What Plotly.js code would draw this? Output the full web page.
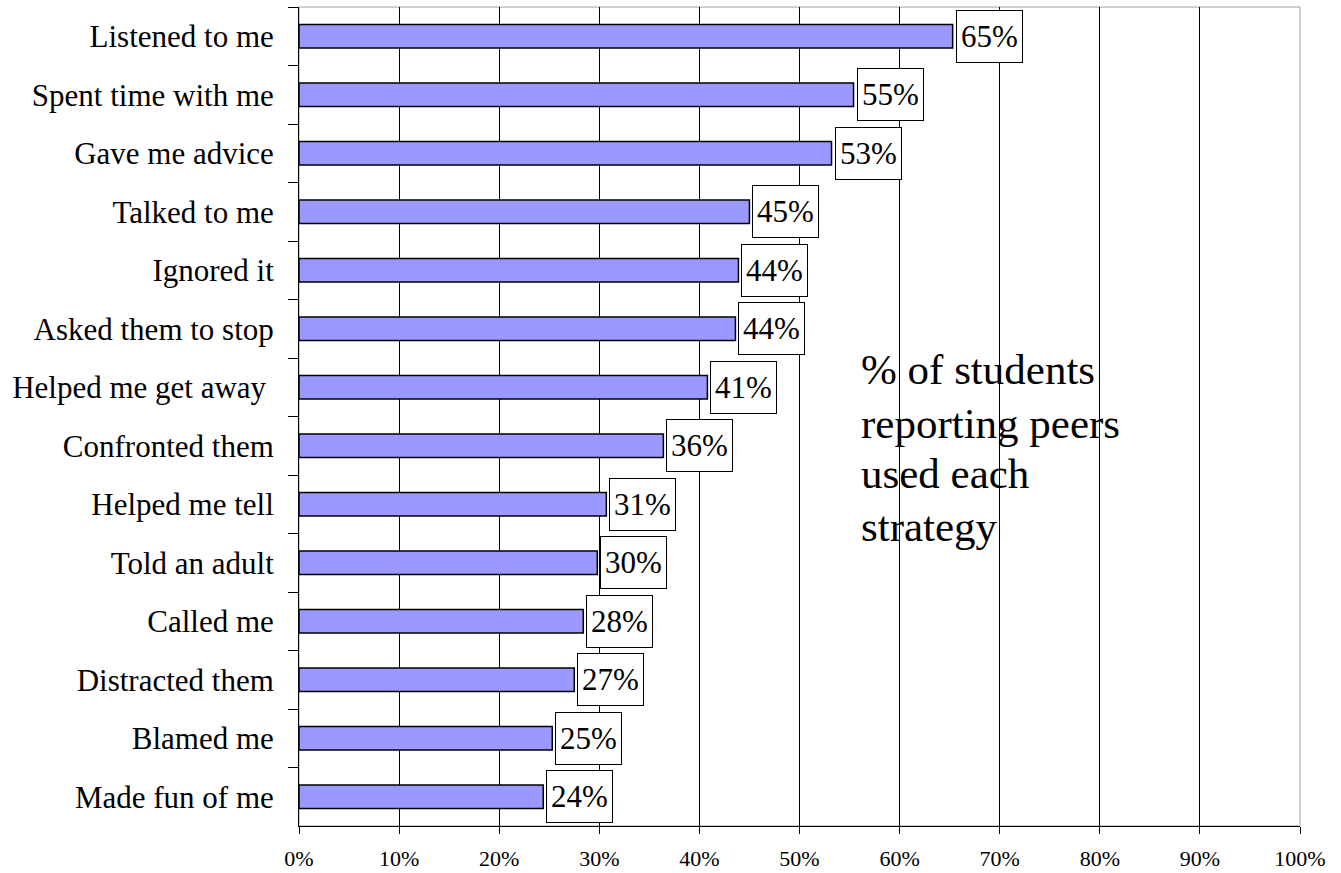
<!DOCTYPE html>
<html>
<head>
<meta charset="utf-8">
<script src="https://cdn.plot.ly/plotly-3.0.1.min.js"></script>
<style>html,body{margin:0;padding:0;background:#fff;}#chart{width:1341px;height:873px;}</style>
</head>
<body>
<div id="chart"></div>
<script>
const categories = ["Listened to me","Spent time with me","Gave me advice","Talked to me","Ignored it","Asked them to stop","Helped me get away\u00a0","Confronted them","Helped me tell","Told an adult","Called me","Distracted them","Blamed me","Made fun of me"];
const values = [0.653, 0.554, 0.532, 0.450, 0.439, 0.436, 0.408, 0.364, 0.307, 0.298, 0.284, 0.275, 0.253, 0.244];
const labels = ["65%","55%","53%","45%","44%","44%","41%","36%","31%","30%","28%","27%","25%","24%"];
const xTicks = [0,0.1,0.2,0.3,0.4,0.5,0.6,0.7,0.8,0.9,1.0];
const xTickText = ["0%","10%","20%","30%","40%","50%","60%","70%","80%","90%","100%"];
const noteLines = ["% of students","reporting peers","used each","strategy"];

const FONT = "'Liberation Serif','Times New Roman',Times,serif";

const trace = {
  type: 'bar', orientation: 'h',
  x: values, y: categories,
  marker: {color: '#9999FF', line: {color: '#000000', width: 1.5}},
  hoverinfo: 'none'
};

const annotations = values.map((v, i) => ({
  x: v, y: categories[i], xref: 'x', yref: 'y',
  text: labels[i], showarrow: false,
  xanchor: 'left', yanchor: 'middle', xshift: 3,
  width: 63, height: 49, align: 'center', valign: 'middle',
  font: {family: FONT, size: 31, color: '#000'},
  bgcolor: '#ffffff', bordercolor: '#000000', borderwidth: 1, borderpad: 1
}));

const noteY = [0.557, 0.492, 0.431, 0.366];
noteLines.forEach((t, i) => {
  annotations.push({
    x: 0.559, y: noteY[i], xref: 'x', yref: 'paper',
    text: t, showarrow: false, xanchor: 'left', yanchor: 'middle',
    font: {family: FONT, size: 43, color: '#000'}
  });
});

const layout = {
  width: 1341, height: 873,
  margin: {l: 299, r: 41, t: 7, b: 47, pad: 0},
  paper_bgcolor: '#ffffff', plot_bgcolor: '#ffffff',
  showlegend: false,
  bargap: 0.6,
  xaxis: {
    range: [0, 1], tickvals: xTicks, ticktext: xTickText,
    showgrid: true, gridcolor: '#000000', gridwidth: 1,
    zeroline: false, showline: true, linecolor: '#000000', linewidth: 1,
    ticks: 'outside', ticklen: 7, tickcolor: '#000000',
    ticklabelstandoff: 6,
    tickfont: {family: FONT, size: 22, color: '#000'}, fixedrange: true
  },
  yaxis: {
    type: 'category', autorange: 'reversed',
    showgrid: false, zeroline: false, showline: true, linecolor: '#000000', linewidth: 1,
    ticks: 'outside', tickson: 'boundaries', ticklen: 10, tickcolor: '#000000',
    ticklabelstandoff: 18,
    tickfont: {family: FONT, size: 31, color: '#000'}, fixedrange: true
  },
  shapes: [{
    type: 'rect', xref: 'paper', yref: 'paper', x0: 0, x1: 1, y0: 0, y1: 1,
    line: {color: '#a0a0a0', width: 1}, layer: 'below'
  }],
  annotations: annotations
};

Plotly.newPlot('chart', [trace], layout, {displayModeBar: false, staticPlot: true});
</script>
</body>
</html>
